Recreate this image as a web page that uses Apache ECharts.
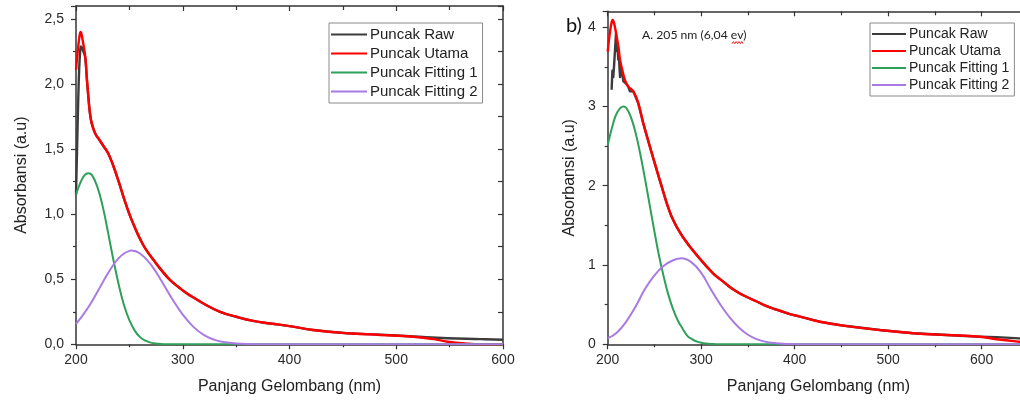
<!DOCTYPE html>
<html><head><meta charset="utf-8">
<script src="https://cdn.jsdelivr.net/npm/echarts@6/dist/echarts.min.js"></script>
<style>html,body{margin:0;padding:0;background:#fff}#c{width:1020px;height:400px}</style>
</head><body><div id="c"></div>
<script>
// ---------- Panel a (left) ----------
const seriesNames = ['Puncak Raw', 'Puncak Utama', 'Puncak Fitting 1', 'Puncak Fitting 2'];
const xTitle = 'Panjang Gelombang (nm)';
const yTitle = 'Absorbansi (a.u)';

const aRawWl = [200,201,202,203,204,204.6,205.5,207,208.7,210,211.6,213,214.7,218,222,226,230,235,240,245,250,255,260,265,272.5,280,288,296,304,312,319,335,351,366,382,400,422,454,485,516,548,579,600];
const aRaw   = [1.15,1.5,1.85,2.12,2.26,2.29,2.28,2.25,2.2,2.06,1.9,1.78,1.7,1.62,1.57,1.52,1.47,1.37,1.25,1.12,1.0,0.9,0.81,0.735,0.65,0.57,0.495,0.44,0.39,0.35,0.315,0.25,0.21,0.18,0.16,0.14,0.11,0.085,0.074,0.06,0.046,0.04,0.035];
const aMainWl = [200,202,203.5,204.4,205.5,207,208.7,210,211.6,213,214.7,218,222,226,230,235,240,245,250,255,260,265,272.5,280,288,296,304,312,319,335,351,366,382,400,422,454,485,516,535,548,566,580,600];
const aMain   = [2.11,2.28,2.38,2.4,2.37,2.3,2.21,2.06,1.9,1.78,1.7,1.62,1.57,1.52,1.47,1.37,1.25,1.12,1.0,0.9,0.81,0.735,0.65,0.57,0.495,0.44,0.39,0.35,0.315,0.25,0.21,0.18,0.16,0.14,0.11,0.085,0.072,0.058,0.04,0.02,0.005,0.0,0.0];
const aFit1Wl = [200,204,208,211.6,215,220,225,230,235,240,245,250,255,260,265,270,276,282,300,350,400,600];
const aFit1   = [1.15,1.24,1.3,1.315,1.3,1.21,1.06,0.86,0.65,0.46,0.3,0.185,0.105,0.055,0.028,0.013,0.005,0.001,0,0,0,0];
const aFit2Wl = [200,210,220,230,240,250,252,260,270,280,290,300,310,320,330,340,350,360,380,600];
const aFit2   = [0.156,0.265,0.402,0.546,0.662,0.718,0.72,0.698,0.614,0.488,0.35,0.228,0.134,0.071,0.034,0.015,0.006,0.002,0,0];

// ---------- Panel b (right) ----------
const bRawWl = [204.2,205,206,207,208,208.9,209.6,210.3,211.3,212,213.2,214,214.9,216,216.7,218.5,220.2,222,223.8,227.4,232.7,238,245.2,252.4,258,263.1,268,273.8,280,288,297,305.9,314,323.6,332,341.5,350,359.4,368,377,385,395,405.7,427,455.6,491,527,562.6,598,616,640,700];
const bRaw   = [3.21,3.45,3.37,3.55,3.75,3.92,3.7,3.8,3.59,3.62,3.37,3.5,3.45,3.38,3.32,3.3,3.28,3.25,3.19,3.19,3.04,2.79,2.49,2.2,1.98,1.78,1.62,1.48,1.36,1.23,1.1,0.98,0.88,0.79,0.71,0.64,0.59,0.54,0.49,0.45,0.42,0.38,0.35,0.285,0.23,0.18,0.14,0.117,0.096,0.09,0.075,0.06];
const bMainWl = [200,202,204,205.3,207,209.6,211.5,213.2,216,218.5,222,227.4,232.7,238,245.2,252.4,258,263.1,268,273.8,280,288,297,305.9,314,323.6,332,341.5,350,359.4,368,377,385,395,405.7,427,455.6,491,527,562.6,598,616,640,660,700];
const bMain   = [3.69,3.9,4.05,4.09,4.04,3.88,3.75,3.59,3.44,3.33,3.25,3.19,3.04,2.79,2.49,2.2,1.98,1.78,1.62,1.48,1.36,1.23,1.1,0.98,0.88,0.79,0.71,0.64,0.59,0.54,0.49,0.45,0.42,0.38,0.35,0.285,0.23,0.18,0.14,0.117,0.096,0.063,0.033,0.015,0];
const bFit1Wl = [200,205,210,216.7,220,225,230,235,240,245,250,255,260,265,270,275,280,285,290,295,300,305,310,320,700];
const bFit1   = [2.51,2.75,2.92,3.0,2.98,2.86,2.66,2.39,2.08,1.75,1.42,1.11,0.85,0.62,0.44,0.3,0.2,0.11,0.065,0.037,0.02,0.01,0.005,0.001,0];
const bFit2Wl = [200,210,220,230,240,250,260,270,279,290,300,310,320,330,340,350,360,370,380,390,400,420,700];
const bFit2   = [0.075,0.15,0.29,0.48,0.7,0.87,0.99,1.06,1.085,1.03,0.9,0.7,0.51,0.345,0.215,0.12,0.062,0.03,0.013,0.005,0.002,0,0];

const panelLabel = 'b)';
const annotation = 'A. 205 nm (6,04 ev)';

const colors = ['#3c3c3c', '#ff0000', '#2ea05a', '#a97be2'];
const widths = [2.4, 2.4, 2, 2];
const FONT = 'Liberation Sans, Arial, sans-serif';
const AX = '#333';

function pairs(xs, ys) { return xs.map((x, i) => [x, ys[i]]); }
const commaFmt = v => v.toFixed(1).replace('.', ',');

function bottomX(grid, min, max, nameShift) {
  return {
    gridIndex: grid, type: 'value', position: 'bottom', min, max, interval: 100,
    axisLine: { show: true, onZero: false, lineStyle: { color: AX, width: 1.5 } },
    axisTick: { show: true, inside: false, length: 5, lineStyle: { color: AX, width: 1.2 } },
    minorTick: { show: true, splitNumber: 2, length: 3, lineStyle: { color: AX, width: 1.2 } },
    splitLine: { show: false },
    axisLabel: { fontSize: 14, color: '#2a2a2a', margin: 9, fontFamily: FONT },
    name: xTitle, nameLocation: 'middle', nameGap: 34,
    nameTextStyle: { fontSize: 16, color: '#222', fontFamily: FONT, padding: [0, nameShift, 0, 0] }
  };
}
function topX(grid, min, max) {
  return {
    gridIndex: grid, type: 'value', position: 'top', min, max, interval: 100,
    axisLine: { show: true, onZero: false, lineStyle: { color: AX, width: 1.5 } },
    axisTick: { show: true, inside: true, length: 5, lineStyle: { color: AX, width: 1.2 } },
    minorTick: { show: true, splitNumber: 2, length: 4, lineStyle: { color: AX, width: 1.2 } },
    splitLine: { show: false }, axisLabel: { show: false }
  };
}
function leftY(grid, max, interval, fmt, gap) {
  return {
    gridIndex: grid, type: 'value', position: 'left', min: 0, max, interval,
    axisLine: { show: true, onZero: false, lineStyle: { color: AX, width: 1.5 } },
    axisTick: { show: true, inside: false, length: 5, lineStyle: { color: AX, width: 1.2 } },
    minorTick: { show: true, splitNumber: 2, length: 3, lineStyle: { color: AX, width: 1.2 } },
    splitLine: { show: false },
    axisLabel: { fontSize: 14, color: '#2a2a2a', margin: 12, fontFamily: FONT, formatter: fmt, showMaxLabel: false },
    name: yTitle, nameLocation: 'middle', nameGap: gap, nameRotate: 90,
    nameTextStyle: { fontSize: 16, color: '#222', fontFamily: FONT }
  };
}
function rightY(grid, max, interval) {
  return {
    gridIndex: grid, type: 'value', position: 'right', min: 0, max, interval,
    axisLine: { show: true, onZero: false, lineStyle: { color: AX, width: 1.5 } },
    axisTick: { show: true, inside: true, length: 5, lineStyle: { color: AX, width: 1.2 } },
    minorTick: { show: true, splitNumber: 2, length: 5, lineStyle: { color: AX, width: 1.2 } },
    splitLine: { show: false }, axisLabel: { show: false }
  };
}

const panelA = [[aRawWl, aRaw], [aMainWl, aMain], [aFit1Wl, aFit1], [aFit2Wl, aFit2]];
const panelB = [[bRawWl, bRaw], [bMainWl, bMain], [bFit1Wl, bFit1], [bFit2Wl, bFit2]];
const series = [];
[panelA, panelB].forEach((panel, p) => {
  panel.forEach(([xs, ys], i) => {
    series.push({
      name: seriesNames[i], type: 'line', xAxisIndex: p * 2, yAxisIndex: p * 2,
      data: pairs(xs, ys), showSymbol: false, symbol: 'none',
      smooth: (p === 1 && i === 0) ? false : 0.45,
      lineStyle: { color: colors[i], width: widths[i], join: 'round' }, itemStyle: { color: colors[i] },
      z: 2 + i, animation: false
    });
  });
});

function legend(left, top, fs, w, gap) {
  return {
    data: seriesNames, left, top, orient: 'vertical', icon: 'rect',
    itemWidth: w, itemHeight: 2, itemGap: gap,
    padding: [4, 5, 4, 2], borderColor: '#8a8a8a', borderWidth: 1, backgroundColor: '#fff',
    textStyle: { fontSize: fs, color: '#222', fontFamily: FONT, padding: [0, 0, 0, -2] },
    selectedMode: false
  };
}

// squiggle under "ev"
const sq = [];
for (let k = 0; k <= 8; k++) sq.push([732 + k * 1.4, k % 2 ? 41.5 : 43.7]);

const option = {
  animation: false,
  grid: [
    { left: 76, top: 6, width: 427, height: 338.3, outerBoundsMode: 'none', containLabel: false },
    { left: 607.7, top: 11.3, width: 467.5, height: 333, outerBoundsMode: 'none', containLabel: false }
  ],
  xAxis: [bottomX(0, 200, 600, 0), topX(0, 200, 600), bottomX(1, 200, 700, 46), topX(1, 200, 700)],
  yAxis: [leftY(0, 2.6, 0.5, commaFmt, 46), rightY(0, 2.6, 0.5), leftY(1, 4.2, 1, v => String(v), 30), rightY(1, 4.2, 1)],
  legend: [legend(329, 23, 15, 36, 4), legend(870, 23, 14, 34, 3)],
  series,
  graphic: [
    { type: 'text', left: 566, top: 16, style: { text: panelLabel, fontSize: 20, fill: '#111', fontFamily: 'Lato, Open Sans, sans-serif' } },
    { type: 'text', left: 642, top: 29, style: { text: annotation, fontSize: 12.2, fill: '#222', fontFamily: 'Lato, Open Sans, sans-serif' } },
    { type: 'polyline', shape: { points: sq }, style: { stroke: '#e02020', lineWidth: 1, fill: null } }
  ]
};
echarts.init(document.getElementById('c'), null, { renderer: 'canvas' }).setOption(option);
</script></body></html>
